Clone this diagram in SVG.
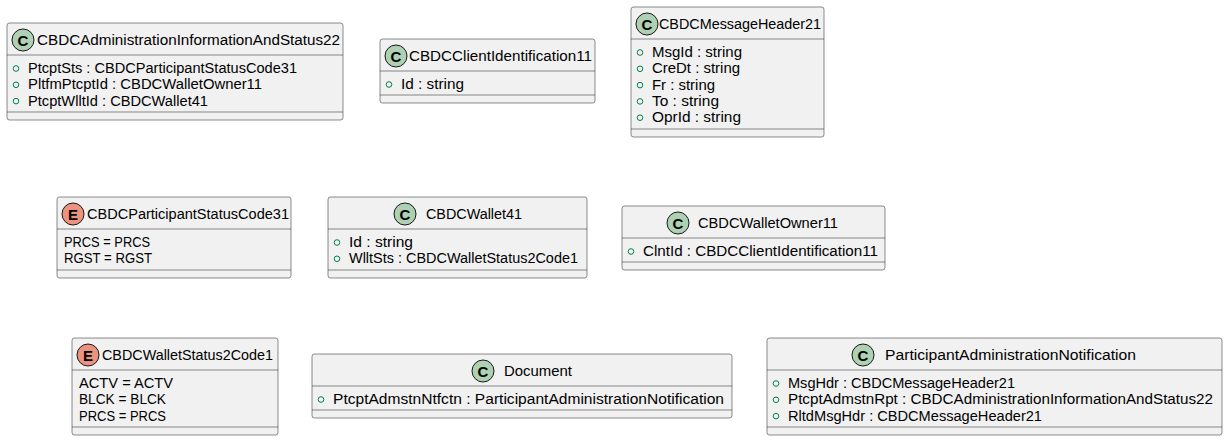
<svg xmlns="http://www.w3.org/2000/svg" width="1227" height="441" viewBox="0 0 1227 441">
<style>
.box{fill:#F1F1F1;stroke:#181818;stroke-width:0.5}
.sep{stroke:#181818;stroke-width:0.5}
.t{font-family:"Liberation Sans",Arial,sans-serif;font-size:14px;fill:#000}
.ci{fill:#ADD1B2;stroke:#181818;stroke-width:1}
.ce{fill:#EB937F;stroke:#181818;stroke-width:1}
.cl{font-family:"Liberation Sans",Arial,sans-serif;font-size:15px;font-weight:bold;fill:#000;text-anchor:middle}
.m{fill:none;stroke:#038048;stroke-width:1}
</style>
<g id="connectors"></g>
<g id="CBDCAdministrationInformationAndStatus22">
<rect class="box" x="7" y="23" width="336" height="97" rx="2.5"/>
<line class="sep" x1="7" y1="55" x2="343" y2="55"/><line class="sep" x1="7" y1="112" x2="343" y2="112"/>
<circle class="ci" cx="23" cy="40" r="11"/><text class="cl" x="23" y="45.5">C</text>
<text class="t" x="37" y="45" textLength="303" lengthAdjust="spacingAndGlyphs">CBDCAdministrationInformationAndStatus22</text>
<circle class="m" cx="16" cy="68.5" r="2.8"/><text class="t" x="28" y="73" textLength="269" lengthAdjust="spacingAndGlyphs">PtcptSts : CBDCParticipantStatusCode31</text>
<circle class="m" cx="16" cy="84.8" r="2.8"/><text class="t" x="28" y="89.3" textLength="234" lengthAdjust="spacingAndGlyphs">PltfmPtcptId : CBDCWalletOwner11</text>
<circle class="m" cx="16" cy="101.1" r="2.8"/><text class="t" x="28" y="105.6" textLength="180" lengthAdjust="spacingAndGlyphs">PtcptWlltId : CBDCWallet41</text>
</g>
<g id="CBDCClientIdentification11">
<rect class="box" x="380" y="39" width="215" height="64" rx="2.5"/>
<line class="sep" x1="380" y1="71" x2="595" y2="71"/><line class="sep" x1="380" y1="95" x2="595" y2="95"/>
<circle class="ci" cx="396" cy="56" r="11"/><text class="cl" x="396" y="61.5">C</text>
<text class="t" x="409" y="61" textLength="183" lengthAdjust="spacingAndGlyphs">CBDCClientIdentification11</text>
<circle class="m" cx="389" cy="84.5" r="2.8"/><text class="t" x="401" y="89" textLength="63" lengthAdjust="spacingAndGlyphs">Id : string</text>
</g>
<g id="CBDCMessageHeader21">
<rect class="box" x="631" y="7" width="193" height="130" rx="2.5"/>
<line class="sep" x1="631" y1="39" x2="824" y2="39"/><line class="sep" x1="631" y1="129" x2="824" y2="129"/>
<circle class="ci" cx="647" cy="24" r="11"/><text class="cl" x="647" y="29.5">C</text>
<text class="t" x="659" y="29" textLength="162" lengthAdjust="spacingAndGlyphs">CBDCMessageHeader21</text>
<circle class="m" cx="640" cy="52.5" r="2.8"/><text class="t" x="652" y="57" textLength="90" lengthAdjust="spacingAndGlyphs">MsgId : string</text>
<circle class="m" cx="640" cy="68.8" r="2.8"/><text class="t" x="652" y="73.3" textLength="88" lengthAdjust="spacingAndGlyphs">CreDt : string</text>
<circle class="m" cx="640" cy="85.1" r="2.8"/><text class="t" x="652" y="89.6" textLength="63" lengthAdjust="spacingAndGlyphs">Fr : string</text>
<circle class="m" cx="640" cy="101.4" r="2.8"/><text class="t" x="652" y="105.9" textLength="67" lengthAdjust="spacingAndGlyphs">To : string</text>
<circle class="m" cx="640" cy="117.7" r="2.8"/><text class="t" x="652" y="122.2" textLength="89" lengthAdjust="spacingAndGlyphs">OprId : string</text>
</g>
<g id="CBDCParticipantStatusCode31">
<rect class="box" x="57" y="197" width="234" height="81" rx="2.5"/>
<line class="sep" x1="57" y1="229" x2="291" y2="229"/><line class="sep" x1="57" y1="270" x2="291" y2="270"/>
<circle class="ce" cx="73" cy="214" r="11"/><text class="cl" x="73" y="219.5">E</text>
<text class="t" x="87" y="219" textLength="202" lengthAdjust="spacingAndGlyphs">CBDCParticipantStatusCode31</text>
<text class="t" x="64" y="247" textLength="86" lengthAdjust="spacingAndGlyphs">PRCS = PRCS</text>
<text class="t" x="64" y="263.3" textLength="88" lengthAdjust="spacingAndGlyphs">RGST = RGST</text>
</g>
<g id="CBDCWallet41">
<rect class="box" x="328" y="197" width="259" height="81" rx="2.5"/>
<line class="sep" x1="328" y1="229" x2="587" y2="229"/><line class="sep" x1="328" y1="270" x2="587" y2="270"/>
<circle class="ci" cx="405" cy="214" r="11"/><text class="cl" x="405" y="219.5">C</text>
<text class="t" x="426" y="219" textLength="96" lengthAdjust="spacingAndGlyphs">CBDCWallet41</text>
<circle class="m" cx="337" cy="242.5" r="2.8"/><text class="t" x="349" y="247" textLength="64" lengthAdjust="spacingAndGlyphs">Id : string</text>
<circle class="m" cx="337" cy="258.8" r="2.8"/><text class="t" x="349" y="263.3" textLength="229" lengthAdjust="spacingAndGlyphs">WlltSts : CBDCWalletStatus2Code1</text>
</g>
<g id="CBDCWalletOwner11">
<rect class="box" x="622" y="206" width="263" height="64" rx="2.5"/>
<line class="sep" x1="622" y1="238" x2="885" y2="238"/><line class="sep" x1="622" y1="262" x2="885" y2="262"/>
<circle class="ci" cx="678" cy="223" r="11"/><text class="cl" x="678" y="228.5">C</text>
<text class="t" x="698" y="228" textLength="140" lengthAdjust="spacingAndGlyphs">CBDCWalletOwner11</text>
<circle class="m" cx="631" cy="251.5" r="2.8"/><text class="t" x="643" y="256" textLength="235" lengthAdjust="spacingAndGlyphs">ClntId : CBDCClientIdentification11</text>
</g>
<g id="CBDCWalletStatus2Code1">
<rect class="box" x="72" y="338" width="206" height="97" rx="2.5"/>
<line class="sep" x1="72" y1="370" x2="278" y2="370"/><line class="sep" x1="72" y1="427" x2="278" y2="427"/>
<circle class="ce" cx="88" cy="355" r="11"/><text class="cl" x="88" y="360.5">E</text>
<text class="t" x="102" y="360" textLength="171" lengthAdjust="spacingAndGlyphs">CBDCWalletStatus2Code1</text>
<text class="t" x="79" y="388" textLength="94" lengthAdjust="spacingAndGlyphs">ACTV = ACTV</text>
<text class="t" x="79" y="404.3" textLength="87" lengthAdjust="spacingAndGlyphs">BLCK = BLCK</text>
<text class="t" x="79" y="420.6" textLength="87" lengthAdjust="spacingAndGlyphs">PRCS = PRCS</text>
</g>
<g id="Document">
<rect class="box" x="312" y="354" width="420" height="64" rx="2.5"/>
<line class="sep" x1="312" y1="386" x2="732" y2="386"/><line class="sep" x1="312" y1="410" x2="732" y2="410"/>
<circle class="ci" cx="483" cy="371" r="11"/><text class="cl" x="483" y="376.5">C</text>
<text class="t" x="504" y="376" textLength="68" lengthAdjust="spacingAndGlyphs">Document</text>
<circle class="m" cx="321" cy="399.5" r="2.8"/><text class="t" x="333" y="404" textLength="391" lengthAdjust="spacingAndGlyphs">PtcptAdmstnNtfctn : ParticipantAdministrationNotification</text>
</g>
<g id="ParticipantAdministrationNotification">
<rect class="box" x="767" y="338" width="455" height="97" rx="2.5"/>
<line class="sep" x1="767" y1="370" x2="1222" y2="370"/><line class="sep" x1="767" y1="427" x2="1222" y2="427"/>
<circle class="ci" cx="863" cy="355" r="11"/><text class="cl" x="863" y="360.5">C</text>
<text class="t" x="885" y="360" textLength="251" lengthAdjust="spacingAndGlyphs">ParticipantAdministrationNotification</text>
<circle class="m" cx="776" cy="383.5" r="2.8"/><text class="t" x="788" y="388" textLength="227" lengthAdjust="spacingAndGlyphs">MsgHdr : CBDCMessageHeader21</text>
<circle class="m" cx="776" cy="399.8" r="2.8"/><text class="t" x="788" y="404.3" textLength="425" lengthAdjust="spacingAndGlyphs">PtcptAdmstnRpt : CBDCAdministrationInformationAndStatus22</text>
<circle class="m" cx="776" cy="416.1" r="2.8"/><text class="t" x="788" y="420.6" textLength="254" lengthAdjust="spacingAndGlyphs">RltdMsgHdr : CBDCMessageHeader21</text>
</g>
</svg>
